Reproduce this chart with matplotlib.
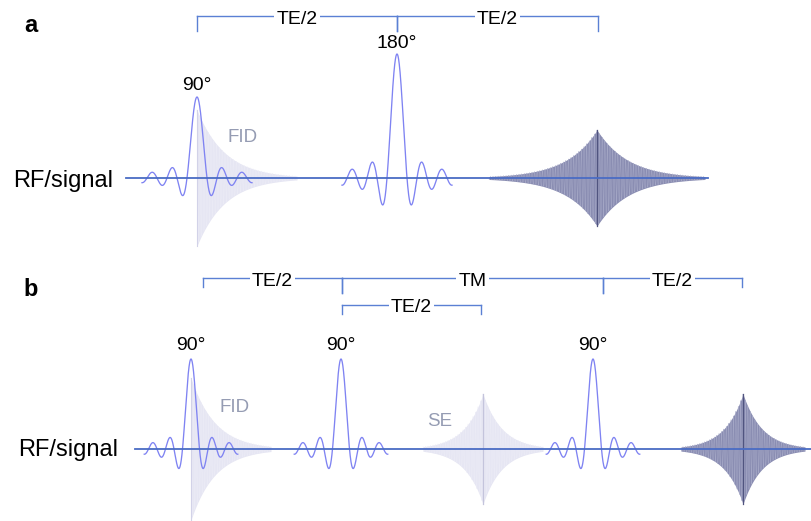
import numpy as np
import matplotlib
matplotlib.use("Agg")
import matplotlib.pyplot as plt

plt.rcParams['font.family'] = ['Liberation Sans', 'DejaVu Sans']

# ---------------- data ----------------
# Panel a: spin echo (time and amplitude in display units)
a_pulse_times = [0, 200]
a_pulse_amps = [81, 124]
a_pulse_labels = ["90°", "180°"]
a_fid_amp = 68
a_echo_time = 400
a_echo_amp = 48
a_bracket_start = [0, 200]
a_bracket_end = [200, 401]
a_bracket_labels = ["TE/2", "TE/2"]

# Panel b: stimulated echo
b_pulse_times = [0, 150, 402]
b_pulse_amps = [90, 90, 90]
b_pulse_labels = ["90°", "90°", "90°"]
b_fid_amp = 71
b_se_time = 292
b_se_amp = 55
b_ste_time = 552
b_ste_amp = 55
b_bracket_start = [12, 151, 412, 151]
b_bracket_end = [151, 412, 551, 290]
b_bracket_labels = ["TE/2", "TM", "TE/2", "TE/2"]
b_bracket_row = [0, 0, 0, 1]

# ---------------- style ----------------
PULSE = '#7f83f2'
BASE = '#4a6cc4'
BRACKET = '#5b80d4'
LIGHT_FILL = '#e6e6f3'
LIGHT_LINE = '#ececf6'
DARK_FILL = '#8a8db2'
DARK_LINE = '#a9acc9'
LABEL_GREY = '#959cb3'

W, H = 812, 521
fig = plt.figure(figsize=(W / 100, H / 100), dpi=100)

# panel a occupies pixel rows 0..260, baseline at row 178, first pulse at col 197
ax_a = fig.add_axes([0, 1 - 260 / H, 1, 260 / H])
ax_a.set_xlim(-197, W - 197)
ax_a.set_ylim(178 - 260, 178)
# panel b occupies pixel rows 260..521, baseline at row 449, first pulse at col 191
ax_b = fig.add_axes([0, 0, 1, 261 / H])
ax_b.set_xlim(-191, W - 191)
ax_b.set_ylim(449 - 521, 449 - 260)
for ax in (ax_a, ax_b):
    ax.axis('off')


def draw_pulse(ax, t0, amp, w):
    t = np.linspace(-5.5 * w, 5.5 * w, 800)
    ax.plot(t0 + t, amp * np.sinc(t / w), color=PULSE, lw=0.95, zorder=4)


def draw_fid(ax, t0, amp, tau, length, period):
    t = np.linspace(0, length, 4000)
    env = amp * np.exp(-t / tau)
    ax.fill_between(t0 + t, -env, env, color=LIGHT_FILL, lw=0, zorder=2)
    ax.plot(t0 + t, env * np.cos(2 * np.pi * t / period), color=LIGHT_LINE,
            lw=0.3, zorder=2)
    ax.plot([t0, t0], [-amp, amp], color='#d2d2e8', lw=0.8, zorder=2)


def draw_echo(ax, t0, amp, tau, half, period, fillc, linec, lw, centerc):
    t = np.linspace(-half, half, 6000)
    env = amp * np.exp(-np.abs(t) / tau)
    ax.fill_between(t0 + t, -env, env, color=fillc, lw=0, zorder=2)
    ax.plot(t0 + t, env * np.cos(2 * np.pi * t / period), color=linec,
            lw=lw, zorder=2)
    ax.plot([t0, t0], [-amp, amp], color=centerc, lw=0.9, zorder=3)


def draw_bracket(ax, t1, t2, label, y, tick1, tick2, fs=14):
    ax.plot([t1, t2], [y, y], color=BRACKET, lw=1.0, zorder=1)
    ax.plot([t1, t1], [y, y - tick1], color=BRACKET, lw=1.0, zorder=1)
    ax.plot([t2, t2], [y, y - tick2], color=BRACKET, lw=1.0, zorder=1)
    ax.text((t1 + t2) / 2, y - 3, label, ha='center', va='center', fontsize=fs,
            color='black', zorder=5,
            bbox=dict(facecolor='white', edgecolor='none', pad=1.5))


# ---------------- panel a ----------------
ax_a.plot([-71, 511], [0, 0], color=BASE, lw=1.3, zorder=6)
draw_fid(ax_a, a_pulse_times[0], a_fid_amp, 28, 100, 2.8)
draw_echo(ax_a, a_echo_time, a_echo_amp, 31, 108, 2.6, DARK_FILL, DARK_LINE, 0.3,
          '#50547f')
for t, a, lab in zip(a_pulse_times, a_pulse_amps, a_pulse_labels):
    draw_pulse(ax_a, t, a, 10)
    ax_a.text(t, a + 11, lab, ha='center', va='center', fontsize=14,
              color='black', zorder=5)
ax_a.text(46, 40, "FID", ha='center', va='center', fontsize=13.5,
          color=LABEL_GREY, zorder=5)
for t1, t2, lab in zip(a_bracket_start, a_bracket_end, a_bracket_labels):
    draw_bracket(ax_a, t1, t2, lab, 162, 15, 15)
ax_a.text(-166, 153, "a", ha='center', va='center', fontsize=17,
          fontweight='bold', color='black')
ax_a.text(-184, -3, "RF/signal", ha='left', va='center', fontsize=17,
          color='black')

# ---------------- panel b ----------------
ax_b.plot([-56, 621], [0, 0], color=BASE, lw=1.3, zorder=6)
draw_fid(ax_b, b_pulse_times[0], b_fid_amp, 24, 80, 2.5)
draw_echo(ax_b, b_se_time, b_se_amp, 19, 60, 2.5, LIGHT_FILL, LIGHT_LINE, 0.3,
          '#c4c4dc')
draw_echo(ax_b, b_ste_time, b_ste_amp, 19, 62, 2.4, DARK_FILL, DARK_LINE, 0.3,
          '#50547f')
for t, a, lab in zip(b_pulse_times, b_pulse_amps, b_pulse_labels):
    draw_pulse(ax_b, t, a, 8.5)
    ax_b.text(t, a + 13, lab, ha='center', va='center', fontsize=14,
              color='black', zorder=5)
ax_b.text(44, 41, "FID", ha='center', va='center', fontsize=13.5,
          color=LABEL_GREY, zorder=5)
ax_b.text(249, 27, "SE", ha='center', va='center', fontsize=13.5,
          color=LABEL_GREY, zorder=5)
row_y = [171, 144]
for t1, t2, lab, r in zip(b_bracket_start, b_bracket_end, b_bracket_labels,
                          b_bracket_row):
    if r == 0:
        tk1 = 9 if t1 == b_bracket_start[0] else 15
        tk2 = 9 if t2 == b_bracket_end[2] else 15
    else:
        tk1, tk2 = 9, 9
    draw_bracket(ax_b, t1, t2, lab, row_y[r], tk1, tk2)
ax_b.text(-160, 159, "b", ha='center', va='center', fontsize=17,
          fontweight='bold', color='black')
ax_b.text(-173, -1, "RF/signal", ha='left', va='center', fontsize=17,
          color='black')

fig.savefig("out.png", dpi=100)
